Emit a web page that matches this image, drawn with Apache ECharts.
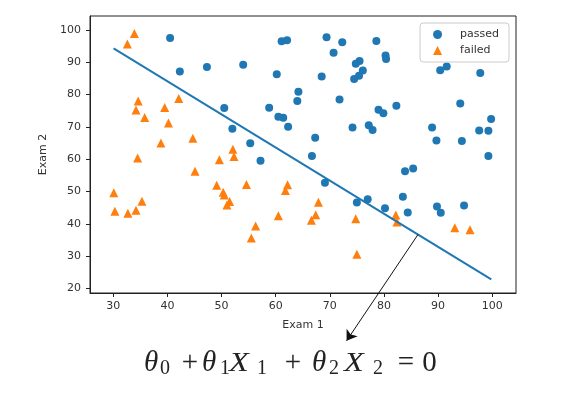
<!DOCTYPE html>
<html>
<head>
<meta charset="utf-8">
<script src="https://cdn.jsdelivr.net/npm/echarts@6/dist/echarts.min.js"></script>
<style>
html,body{margin:0;padding:0;background:#fff;}
#chart{width:577px;height:397px;}
</style>
</head>
<body>
<div id="chart"></div>
<script>
// Passed (Exam 1, Exam 2)
const passedX = [60.2,79.0,61.1,75.0,76.1,84.4,82.3,69.4,54.0,69.1,70.7,77.0,89.7,77.9,62.3,80.2,61.4,85.4,52.0,64.2,83.9,94.4,77.2,97.8,62.1,91.6,79.9,99.3,90.5,97.6,74.2,71.8,75.4,40.5,80.3,66.7,64.0,72.3,60.5,58.8,99.8,47.3,50.5,88.9,94.8,67.3,57.2,80.4,68.5,75.5,78.6,94.1,90.4,74.5,89.8,83.5,42.3,99.3,55.3,74.8];
const passedY = [86.3,75.3,96.5,46.6,87.4,43.5,76.5,97.7,89.2,52.7,92.9,47.6,65.8,69.0,70.0,44.8,72.8,57.1,69.4,80.9,56.3,65.6,70.5,86.7,96.8,88.7,74.2,61.0,43.4,68.9,69.8,78.5,85.8,97.5,92.1,61.0,78.0,96.2,73.1,75.9,72.4,88.5,75.8,69.8,45.7,66.6,59.5,91.0,85.6,90.4,96.6,77.2,87.5,84.8,45.4,48.4,87.1,68.8,64.9,89.5];
// Failed
const failedX = [34.6,30.3,35.8,45.1,95.9,75.0,39.5,67.9,67.4,50.5,34.2,93.1,61.8,38.8,52.1,40.2,54.6,33.9,74.8,34.2,51.5,82.4,51.0,62.2,34.5,50.3,49.6,32.6,35.3,56.3,30.1,44.7,66.6,49.1,32.7,60.5,82.2,42.1,52.3,55.5];
const failedY = [78.0,43.9,72.9,56.3,38.2,30.6,76.0,46.7,42.8,48.9,44.2,38.8,50.3,65.0,63.1,71.2,52.2,98.9,41.6,75.2,46.9,40.6,45.8,52.1,60.4,49.8,59.8,95.6,47.0,39.3,49.6,66.5,41.1,51.9,43.3,42.5,42.7,78.8,60.8,35.6];
// Decision boundary endpoints
const boundaryX = [30.06, 99.83];
const boundaryY = [94.3, 22.8];
// Annotation arrow (data coords)
const arrowFrom = [86.3, 36.7];
const arrowTo = [73.1, 3.8];
// Ticks
const xTicks = [30,40,50,60,70,80,90,100];
const yTicks = [20,30,40,50,60,70,80,90,100];
// Formula glyphs: [text, kind]  kind: v = italic variable, s = subscript, o = operator
const formulaGlyphs = [['θ','v'],['0','s'],['+','o'],['θ','v'],['1','s'],['X','v'],['1','s'],['+','o'],['θ','v'],['2','s'],['X','v'],['2','s'],['=','o'],['0','o']];

const zip = (a, b) => a.map((v, i) => [v, b[i]]);

// layout of the formula text (pixel placement of annotation text)
const glyphX = [144, 160, 190, 202, 220, 229, 257, 293, 312, 329, 344, 373, 406, 429.5];
const baseMain = 369.5, baseSub = 373.5;
function formulaElements() {
  return formulaGlyphs.map((g, i) => {
    const [t, k] = g;
    let size = k === 's' ? 20 : 29;
    if (t === 'X') size = 27;
    const base = k === 's' ? baseSub : baseMain;
    const el = {
      type: 'text', x: glyphX[i], y: base - 0.22 * size, z: 10,
      style: {
        text: t, fill: '#222',
        font: (k === 'v' ? 'italic ' : '') + size + 'px "Liberation Serif"',
        align: k === 'o' ? 'center' : 'left', verticalAlign: 'middle'
      }
    };
    if (t === 'X') { el.scaleX = 1.2; }
    return el;
  });
}

const chart = echarts.init(document.getElementById('chart'), null, {renderer: 'canvas'});
const axisCommon = {
  type: 'value',
  axisLine: {show: true, lineStyle: {color: '#222', width: 1}},
  splitLine: {show: false},
  nameLocation: 'middle',
  nameTextStyle: {fontFamily: 'DejaVu Sans', fontSize: 11, color: '#333'}
};
const option = {
  animation: false,
  backgroundColor: '#fff',
  grid: {left: 90, right: 61, top: 16, bottom: 104, show: true, borderColor: '#222', borderWidth: 1},
  legend: {
    orient: 'vertical', right: 68, top: 23,
    data: [{name: 'passed', icon: 'circle'}, {name: 'failed', icon: 'triangle'}],
    itemWidth: 9, itemHeight: 9, itemGap: 5,
    padding: [6, 10, 6, 13],
    borderColor: '#ccc', borderWidth: 1, borderRadius: 3,
    backgroundColor: 'rgba(255,255,255,0.85)',
    textStyle: {fontFamily: 'DejaVu Sans', fontSize: 11, color: '#333', padding: [0, 0, 0, 13]}
  },
  xAxis: Object.assign({}, axisCommon, {
    min: 25.7, max: 104.4, name: 'Exam 1', nameGap: 27,
    axisTick: {show: true, length: 4, lineStyle: {color: '#222'}, customValues: xTicks},
    axisLabel: {customValues: xTicks, fontFamily: 'DejaVu Sans', fontSize: 11, color: '#333', margin: 8}
  }),
  yAxis: Object.assign({}, axisCommon, {
    min: 18.6, max: 104.3, name: 'Exam 2', nameGap: 41,
    axisTick: {show: true, length: 4, lineStyle: {color: '#222'}, customValues: yTicks},
    axisLabel: {customValues: yTicks, fontFamily: 'DejaVu Sans', fontSize: 11, color: '#333', margin: 9}
  }),
  series: [
    {name: 'passed', type: 'scatter', data: zip(passedX, passedY), symbol: 'circle', symbolSize: 8,
     itemStyle: {color: '#1f77b4', opacity: 1}, z: 2},
    {name: 'failed', type: 'scatter', data: zip(failedX, failedY), symbol: 'triangle', symbolSize: 9,
     itemStyle: {color: '#ff7f0e', opacity: 1}, z: 2},
    {name: 'boundary', type: 'line', data: zip(boundaryX, boundaryY), showSymbol: false, symbol: 'none',
     lineStyle: {color: '#1f77b4', width: 2}, z: 3},
    {name: 'arrow', type: 'lines', coordinateSystem: 'cartesian2d', clip: false, z: 4,
     symbol: ['none', 'arrow'], symbolSize: [0, 10],
     lineStyle: {color: '#111', width: 1, opacity: 1},
     data: [{coords: [arrowFrom, arrowTo]}]}
  ],
  graphic: formulaElements()
};
chart.setOption(option);
</script>
</body>
</html>
